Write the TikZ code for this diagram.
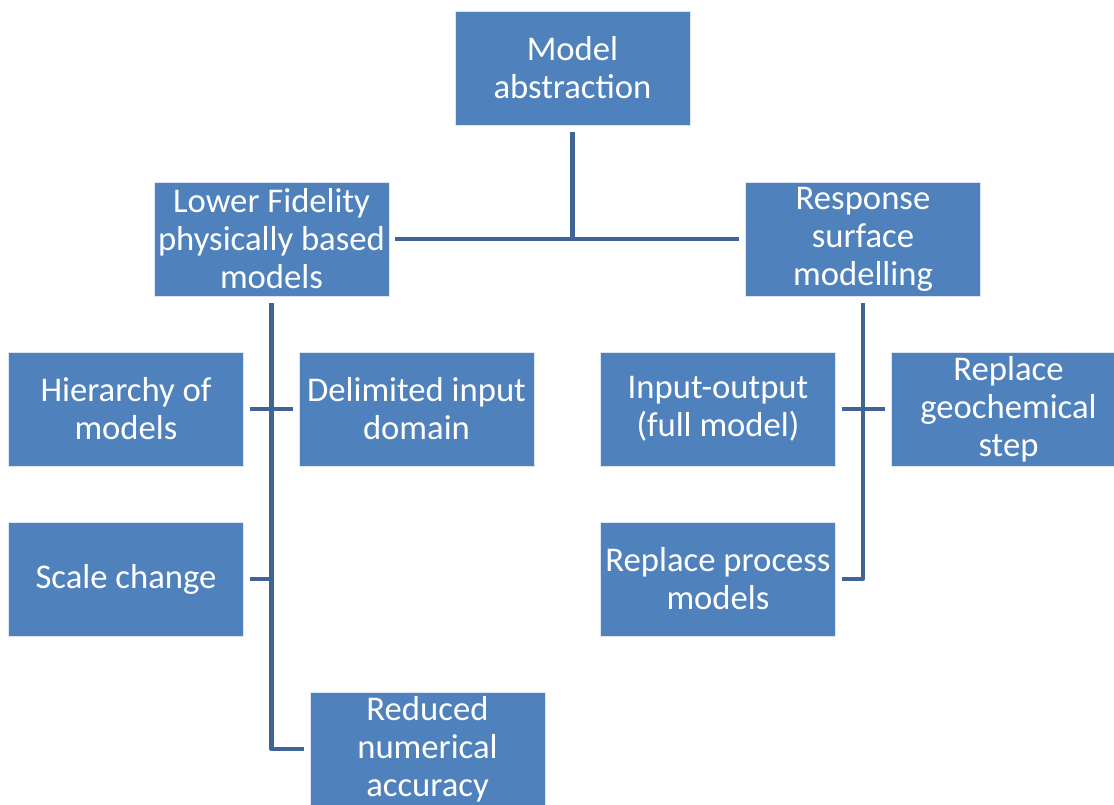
\documentclass[tikz,border=0pt]{standalone}
\usepackage{fontspec}
\setmainfont{Carlito}
\definecolor{boxblue}{RGB}{79,129,189}
\definecolor{linkblue}{RGB}{63,101,152}
\begin{document}
\begin{tikzpicture}[x=0.75pt,y=-0.75pt, every node/.style={font=\fontsize{26}{28.5}\selectfont},
  box/.style={draw=white!80!boxblue,line width=0.6pt,fill=boxblue,text=white,align=center,minimum width=176.25pt,minimum height=85.5pt,inner sep=1pt},
  link/.style={line width=3.6pt,linkblue,line join=round}]
\useasboundingbox (0,0) rectangle (1114,804);
\clip (0,0) rectangle (1114,804);
\node[box] (top) at (572.5,68) {Model\\abstraction};
\node[box] (lfm) at (271.5,239) {Lower Fidelity\\physically based\\models};
\node[box] (rsm) at (863,239) {Response\\surface\\modelling};
\node[box] (hier) at (126,409) {Hierarchy of\\models};
\node[box] (delim) at (416.5,409) {Delimited input\\domain};
\node[box] (scale) at (126,579) {Scale change};
\node[box] (reduced) at (427.5,749) {Reduced\\numerical\\accuracy};
\node[box] (inout) at (718,409) {Input-output\\(full model)};
\node[box] (geo) at (1008.5,409) {Replace\\geochemical\\step};
\node[box] (proc) at (718,579) {Replace process\\models};
\draw[link,shorten <=5.25pt] (top.south) -- (top.south |- lfm.east);
\draw[link,shorten <=4.5pt,shorten >=4.5pt] (lfm.east) -- (rsm.west);
\draw[link,shorten <=5.25pt,shorten >=4.5pt] (lfm.south) |- (reduced.west);
\draw[link,shorten <=4.5pt,shorten >=4.5pt] (hier.east) -- (delim.west);
\draw[link,shorten <=4.5pt] (scale.east) -- (scale.east -| lfm.south);
\draw[link,shorten <=5.25pt,shorten >=4.5pt] (rsm.south) |- (proc.east);
\draw[link,shorten <=4.5pt,shorten >=4.5pt] (inout.east) -- (geo.west);
\end{tikzpicture}
\end{document}
